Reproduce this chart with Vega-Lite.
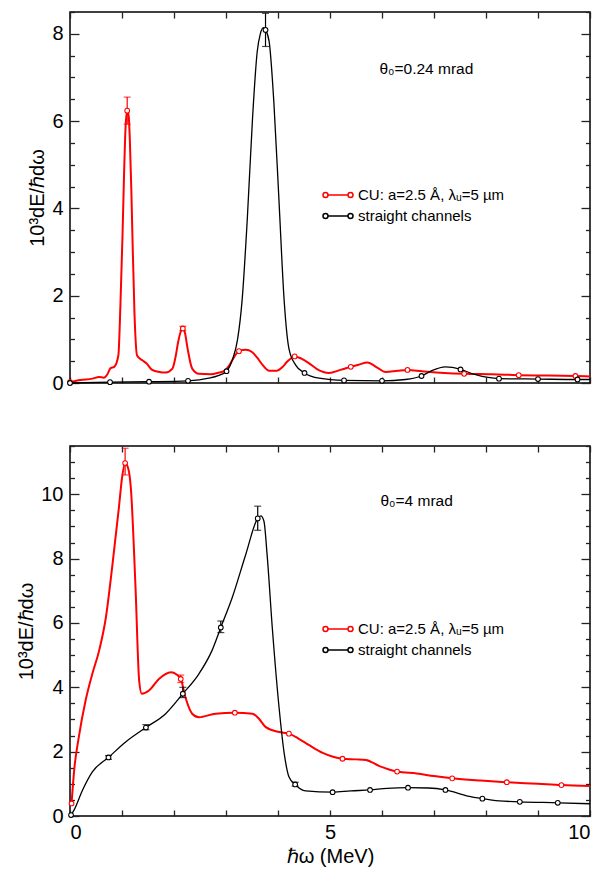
{
  "$schema": "https://vega.github.io/schema/vega-lite/v6.json",
  "padding": {"left": 16, "top": 10, "right": 0, "bottom": 0},
  "background": "white",
  "config": {
    "font": "Liberation Sans",
    "view": {"stroke": "black", "strokeWidth": 1.5},
    "axis": {"domain": false, "grid": false, "labelFont": "Liberation Sans", "titleFont": "Liberation Sans", "labelFontSize": 20, "titleFontSize": 20, "titleFontWeight": "normal", "labelColor": "black", "titleColor": "black", "tickColor": "#222", "tickWidth": 1.3}
  },
  "datasets": {
    "curves": [
      {"p":"a","series":"CU: a=2.5 Å, λᵤ=5 µm","x":0,"y":0.02},{"p":"a","series":"CU: a=2.5 Å, λᵤ=5 µm","x":0.2,"y":0.07},{"p":"a","series":"CU: a=2.5 Å, λᵤ=5 µm","x":0.43,"y":0.1},{"p":"a","series":"CU: a=2.5 Å, λᵤ=5 µm","x":0.56,"y":0.14},{"p":"a","series":"CU: a=2.5 Å, λᵤ=5 µm","x":0.65,"y":0.12},{"p":"a","series":"CU: a=2.5 Å, λᵤ=5 µm","x":0.72,"y":0.2},{"p":"a","series":"CU: a=2.5 Å, λᵤ=5 µm","x":0.78,"y":0.34},{"p":"a","series":"CU: a=2.5 Å, λᵤ=5 µm","x":0.85,"y":0.37},{"p":"a","series":"CU: a=2.5 Å, λᵤ=5 µm","x":0.93,"y":0.63},{"p":"a","series":"CU: a=2.5 Å, λᵤ=5 µm","x":0.97,"y":1.8},{"p":"a","series":"CU: a=2.5 Å, λᵤ=5 µm","x":1.01,"y":3.39},{"p":"a","series":"CU: a=2.5 Å, λᵤ=5 µm","x":1.04,"y":4.8},{"p":"a","series":"CU: a=2.5 Å, λᵤ=5 µm","x":1.07,"y":5.9},{"p":"a","series":"CU: a=2.5 Å, λᵤ=5 µm","x":1.1,"y":6.24},{"p":"a","series":"CU: a=2.5 Å, λᵤ=5 µm","x":1.13,"y":6.1},{"p":"a","series":"CU: a=2.5 Å, λᵤ=5 µm","x":1.15,"y":5.6},{"p":"a","series":"CU: a=2.5 Å, λᵤ=5 µm","x":1.18,"y":4.4},{"p":"a","series":"CU: a=2.5 Å, λᵤ=5 µm","x":1.2,"y":3.39},{"p":"a","series":"CU: a=2.5 Å, λᵤ=5 µm","x":1.24,"y":1.6},{"p":"a","series":"CU: a=2.5 Å, λᵤ=5 µm","x":1.29,"y":0.63},{"p":"a","series":"CU: a=2.5 Å, λᵤ=5 µm","x":1.39,"y":0.52},{"p":"a","series":"CU: a=2.5 Å, λᵤ=5 µm","x":1.47,"y":0.45},{"p":"a","series":"CU: a=2.5 Å, λᵤ=5 µm","x":1.58,"y":0.3},{"p":"a","series":"CU: a=2.5 Å, λᵤ=5 µm","x":1.7,"y":0.26},{"p":"a","series":"CU: a=2.5 Å, λᵤ=5 µm","x":1.84,"y":0.24},{"p":"a","series":"CU: a=2.5 Å, λᵤ=5 µm","x":1.97,"y":0.33},{"p":"a","series":"CU: a=2.5 Å, λᵤ=5 µm","x":2.03,"y":0.6},{"p":"a","series":"CU: a=2.5 Å, λᵤ=5 µm","x":2.08,"y":0.94},{"p":"a","series":"CU: a=2.5 Å, λᵤ=5 µm","x":2.13,"y":1.18},{"p":"a","series":"CU: a=2.5 Å, λᵤ=5 µm","x":2.17,"y":1.25},{"p":"a","series":"CU: a=2.5 Å, λᵤ=5 µm","x":2.21,"y":1.15},{"p":"a","series":"CU: a=2.5 Å, λᵤ=5 µm","x":2.26,"y":0.8},{"p":"a","series":"CU: a=2.5 Å, λᵤ=5 µm","x":2.35,"y":0.33},{"p":"a","series":"CU: a=2.5 Å, λᵤ=5 µm","x":2.48,"y":0.21},{"p":"a","series":"CU: a=2.5 Å, λᵤ=5 µm","x":2.7,"y":0.2},{"p":"a","series":"CU: a=2.5 Å, λᵤ=5 µm","x":2.87,"y":0.24},{"p":"a","series":"CU: a=2.5 Å, λᵤ=5 µm","x":2.96,"y":0.27},{"p":"a","series":"CU: a=2.5 Å, λᵤ=5 µm","x":3.05,"y":0.38},{"p":"a","series":"CU: a=2.5 Å, λᵤ=5 µm","x":3.12,"y":0.52},{"p":"a","series":"CU: a=2.5 Å, λᵤ=5 µm","x":3.25,"y":0.73},{"p":"a","series":"CU: a=2.5 Å, λᵤ=5 µm","x":3.38,"y":0.76},{"p":"a","series":"CU: a=2.5 Å, λᵤ=5 µm","x":3.5,"y":0.71},{"p":"a","series":"CU: a=2.5 Å, λᵤ=5 µm","x":3.6,"y":0.58},{"p":"a","series":"CU: a=2.5 Å, λᵤ=5 µm","x":3.7,"y":0.42},{"p":"a","series":"CU: a=2.5 Å, λᵤ=5 µm","x":3.83,"y":0.28},{"p":"a","series":"CU: a=2.5 Å, λᵤ=5 µm","x":3.98,"y":0.28},{"p":"a","series":"CU: a=2.5 Å, λᵤ=5 µm","x":4.08,"y":0.36},{"p":"a","series":"CU: a=2.5 Å, λᵤ=5 µm","x":4.17,"y":0.48},{"p":"a","series":"CU: a=2.5 Å, λᵤ=5 µm","x":4.32,"y":0.61},{"p":"a","series":"CU: a=2.5 Å, λᵤ=5 µm","x":4.45,"y":0.56},{"p":"a","series":"CU: a=2.5 Å, λᵤ=5 µm","x":4.6,"y":0.45},{"p":"a","series":"CU: a=2.5 Å, λᵤ=5 µm","x":4.75,"y":0.32},{"p":"a","series":"CU: a=2.5 Å, λᵤ=5 µm","x":4.98,"y":0.23},{"p":"a","series":"CU: a=2.5 Å, λᵤ=5 µm","x":5.2,"y":0.3},{"p":"a","series":"CU: a=2.5 Å, λᵤ=5 µm","x":5.4,"y":0.37},{"p":"a","series":"CU: a=2.5 Å, λᵤ=5 µm","x":5.55,"y":0.42},{"p":"a","series":"CU: a=2.5 Å, λᵤ=5 µm","x":5.72,"y":0.47},{"p":"a","series":"CU: a=2.5 Å, λᵤ=5 µm","x":5.9,"y":0.36},{"p":"a","series":"CU: a=2.5 Å, λᵤ=5 µm","x":6.07,"y":0.25},{"p":"a","series":"CU: a=2.5 Å, λᵤ=5 µm","x":6.3,"y":0.28},{"p":"a","series":"CU: a=2.5 Å, λᵤ=5 µm","x":6.49,"y":0.3},{"p":"a","series":"CU: a=2.5 Å, λᵤ=5 µm","x":6.77,"y":0.27},{"p":"a","series":"CU: a=2.5 Å, λᵤ=5 µm","x":7.2,"y":0.23},{"p":"a","series":"CU: a=2.5 Å, λᵤ=5 µm","x":7.58,"y":0.21},{"p":"a","series":"CU: a=2.5 Å, λᵤ=5 µm","x":8.1,"y":0.2},{"p":"a","series":"CU: a=2.5 Å, λᵤ=5 µm","x":8.63,"y":0.18},{"p":"a","series":"CU: a=2.5 Å, λᵤ=5 µm","x":9.2,"y":0.17},{"p":"a","series":"CU: a=2.5 Å, λᵤ=5 µm","x":9.72,"y":0.16},{"p":"a","series":"CU: a=2.5 Å, λᵤ=5 µm","x":10,"y":0.15},
      {"p":"a","series":"straight channels","x":0,"y":0},{"p":"a","series":"straight channels","x":0.77,"y":0.02},{"p":"a","series":"straight channels","x":1.52,"y":0.03},{"p":"a","series":"straight channels","x":2.27,"y":0.05},{"p":"a","series":"straight channels","x":2.67,"y":0.11},{"p":"a","series":"straight channels","x":2.85,"y":0.17},{"p":"a","series":"straight channels","x":3.01,"y":0.27},{"p":"a","series":"straight channels","x":3.12,"y":0.52},{"p":"a","series":"straight channels","x":3.22,"y":0.98},{"p":"a","series":"straight channels","x":3.31,"y":1.9},{"p":"a","series":"straight channels","x":3.41,"y":3.77},{"p":"a","series":"straight channels","x":3.51,"y":6.06},{"p":"a","series":"straight channels","x":3.6,"y":7.59},{"p":"a","series":"straight channels","x":3.66,"y":8.0},{"p":"a","series":"straight channels","x":3.72,"y":8.14},{"p":"a","series":"straight channels","x":3.76,"y":8.09},{"p":"a","series":"straight channels","x":3.83,"y":7.82},{"p":"a","series":"straight channels","x":3.92,"y":6.44},{"p":"a","series":"straight channels","x":4.02,"y":4.15},{"p":"a","series":"straight channels","x":4.12,"y":1.86},{"p":"a","series":"straight channels","x":4.21,"y":0.79},{"p":"a","series":"straight channels","x":4.34,"y":0.41},{"p":"a","series":"straight channels","x":4.51,"y":0.23},{"p":"a","series":"straight channels","x":4.79,"y":0.11},{"p":"a","series":"straight channels","x":5.27,"y":0.06},{"p":"a","series":"straight channels","x":6.0,"y":0.05},{"p":"a","series":"straight channels","x":6.45,"y":0.08},{"p":"a","series":"straight channels","x":6.76,"y":0.16},{"p":"a","series":"straight channels","x":6.97,"y":0.29},{"p":"a","series":"straight channels","x":7.22,"y":0.37},{"p":"a","series":"straight channels","x":7.35,"y":0.36},{"p":"a","series":"straight channels","x":7.51,"y":0.31},{"p":"a","series":"straight channels","x":7.8,"y":0.19},{"p":"a","series":"straight channels","x":8.25,"y":0.1},{"p":"a","series":"straight channels","x":9.0,"y":0.09},{"p":"a","series":"straight channels","x":9.76,"y":0.08},{"p":"a","series":"straight channels","x":10,"y":0.08},
      {"p":"b","series":"CU: a=2.5 Å, λᵤ=5 µm","x":0.03,"y":0.39},{"p":"b","series":"CU: a=2.5 Å, λᵤ=5 µm","x":0.08,"y":1.42},{"p":"b","series":"CU: a=2.5 Å, λᵤ=5 µm","x":0.17,"y":2.46},{"p":"b","series":"CU: a=2.5 Å, λᵤ=5 µm","x":0.3,"y":3.59},{"p":"b","series":"CU: a=2.5 Å, λᵤ=5 µm","x":0.43,"y":4.42},{"p":"b","series":"CU: a=2.5 Å, λᵤ=5 µm","x":0.56,"y":5.14},{"p":"b","series":"CU: a=2.5 Å, λᵤ=5 µm","x":0.69,"y":6.17},{"p":"b","series":"CU: a=2.5 Å, λᵤ=5 µm","x":0.81,"y":7.72},{"p":"b","series":"CU: a=2.5 Å, λᵤ=5 µm","x":0.94,"y":9.58},{"p":"b","series":"CU: a=2.5 Å, λᵤ=5 µm","x":1.0,"y":10.5},{"p":"b","series":"CU: a=2.5 Å, λᵤ=5 µm","x":1.06,"y":10.97},{"p":"b","series":"CU: a=2.5 Å, λᵤ=5 µm","x":1.12,"y":10.8},{"p":"b","series":"CU: a=2.5 Å, λᵤ=5 µm","x":1.17,"y":10.2},{"p":"b","series":"CU: a=2.5 Å, λᵤ=5 µm","x":1.26,"y":7.1},{"p":"b","series":"CU: a=2.5 Å, λᵤ=5 µm","x":1.33,"y":4.21},{"p":"b","series":"CU: a=2.5 Å, λᵤ=5 µm","x":1.38,"y":3.8},{"p":"b","series":"CU: a=2.5 Å, λᵤ=5 µm","x":1.52,"y":3.9},{"p":"b","series":"CU: a=2.5 Å, λᵤ=5 µm","x":1.71,"y":4.26},{"p":"b","series":"CU: a=2.5 Å, λᵤ=5 µm","x":1.94,"y":4.47},{"p":"b","series":"CU: a=2.5 Å, λᵤ=5 µm","x":2.05,"y":4.4},{"p":"b","series":"CU: a=2.5 Å, λᵤ=5 µm","x":2.13,"y":4.26},{"p":"b","series":"CU: a=2.5 Å, λᵤ=5 µm","x":2.22,"y":3.69},{"p":"b","series":"CU: a=2.5 Å, λᵤ=5 µm","x":2.35,"y":3.18},{"p":"b","series":"CU: a=2.5 Å, λᵤ=5 µm","x":2.48,"y":3.07},{"p":"b","series":"CU: a=2.5 Å, λᵤ=5 µm","x":2.8,"y":3.18},{"p":"b","series":"CU: a=2.5 Å, λᵤ=5 µm","x":3.17,"y":3.21},{"p":"b","series":"CU: a=2.5 Å, λᵤ=5 µm","x":3.51,"y":3.18},{"p":"b","series":"CU: a=2.5 Å, λᵤ=5 µm","x":3.63,"y":3.03},{"p":"b","series":"CU: a=2.5 Å, λᵤ=5 µm","x":3.76,"y":2.77},{"p":"b","series":"CU: a=2.5 Å, λᵤ=5 µm","x":4.02,"y":2.61},{"p":"b","series":"CU: a=2.5 Å, λᵤ=5 µm","x":4.21,"y":2.56},{"p":"b","series":"CU: a=2.5 Å, λᵤ=5 µm","x":4.4,"y":2.4},{"p":"b","series":"CU: a=2.5 Å, λᵤ=5 µm","x":4.6,"y":2.2},{"p":"b","series":"CU: a=2.5 Å, λᵤ=5 µm","x":4.86,"y":1.96},{"p":"b","series":"CU: a=2.5 Å, λᵤ=5 µm","x":5.24,"y":1.78},{"p":"b","series":"CU: a=2.5 Å, λᵤ=5 µm","x":5.5,"y":1.76},{"p":"b","series":"CU: a=2.5 Å, λᵤ=5 µm","x":5.69,"y":1.74},{"p":"b","series":"CU: a=2.5 Å, λᵤ=5 µm","x":5.95,"y":1.55},{"p":"b","series":"CU: a=2.5 Å, λᵤ=5 µm","x":6.29,"y":1.38},{"p":"b","series":"CU: a=2.5 Å, λᵤ=5 µm","x":6.67,"y":1.32},{"p":"b","series":"CU: a=2.5 Å, λᵤ=5 µm","x":7.0,"y":1.24},{"p":"b","series":"CU: a=2.5 Å, λᵤ=5 µm","x":7.35,"y":1.17},{"p":"b","series":"CU: a=2.5 Å, λᵤ=5 µm","x":7.9,"y":1.1},{"p":"b","series":"CU: a=2.5 Å, λᵤ=5 µm","x":8.4,"y":1.05},{"p":"b","series":"CU: a=2.5 Å, λᵤ=5 µm","x":9.0,"y":1.0},{"p":"b","series":"CU: a=2.5 Å, λᵤ=5 µm","x":9.45,"y":0.96},{"p":"b","series":"CU: a=2.5 Å, λᵤ=5 µm","x":10,"y":0.93},
      {"p":"b","series":"straight channels","x":0.02,"y":0.03},{"p":"b","series":"straight channels","x":0.08,"y":0.19},{"p":"b","series":"straight channels","x":0.24,"y":0.8},{"p":"b","series":"straight channels","x":0.43,"y":1.37},{"p":"b","series":"straight channels","x":0.74,"y":1.82},{"p":"b","series":"straight channels","x":1.07,"y":2.3},{"p":"b","series":"straight channels","x":1.46,"y":2.75},{"p":"b","series":"straight channels","x":1.84,"y":3.18},{"p":"b","series":"straight channels","x":2.17,"y":3.8},{"p":"b","series":"straight channels","x":2.48,"y":4.42},{"p":"b","series":"straight channels","x":2.73,"y":5.14},{"p":"b","series":"straight channels","x":2.9,"y":5.86},{"p":"b","series":"straight channels","x":3.12,"y":6.79},{"p":"b","series":"straight channels","x":3.38,"y":8.13},{"p":"b","series":"straight channels","x":3.61,"y":9.25},{"p":"b","series":"straight channels","x":3.67,"y":9.33},{"p":"b","series":"straight channels","x":3.73,"y":9.16},{"p":"b","series":"straight channels","x":3.79,"y":8.13},{"p":"b","series":"straight channels","x":3.89,"y":5.86},{"p":"b","series":"straight channels","x":4.02,"y":3.38},{"p":"b","series":"straight channels","x":4.12,"y":1.94},{"p":"b","series":"straight channels","x":4.21,"y":1.22},{"p":"b","series":"straight channels","x":4.33,"y":0.98},{"p":"b","series":"straight channels","x":4.53,"y":0.78},{"p":"b","series":"straight channels","x":5.05,"y":0.74},{"p":"b","series":"straight channels","x":5.4,"y":0.78},{"p":"b","series":"straight channels","x":5.77,"y":0.81},{"p":"b","series":"straight channels","x":6.1,"y":0.86},{"p":"b","series":"straight channels","x":6.5,"y":0.88},{"p":"b","series":"straight channels","x":6.89,"y":0.87},{"p":"b","series":"straight channels","x":7.22,"y":0.81},{"p":"b","series":"straight channels","x":7.65,"y":0.62},{"p":"b","series":"straight channels","x":7.93,"y":0.54},{"p":"b","series":"straight channels","x":8.25,"y":0.47},{"p":"b","series":"straight channels","x":8.65,"y":0.44},{"p":"b","series":"straight channels","x":9.38,"y":0.41},{"p":"b","series":"straight channels","x":10,"y":0.38}
    ],
    "markers": [
      {"p":"a","series":"CU: a=2.5 Å, λᵤ=5 µm","x":0,"y":0.02},{"p":"a","series":"CU: a=2.5 Å, λᵤ=5 µm","x":1.1,"y":6.24},{"p":"a","series":"CU: a=2.5 Å, λᵤ=5 µm","x":2.17,"y":1.25},{"p":"a","series":"CU: a=2.5 Å, λᵤ=5 µm","x":3.25,"y":0.73},{"p":"a","series":"CU: a=2.5 Å, λᵤ=5 µm","x":4.32,"y":0.61},{"p":"a","series":"CU: a=2.5 Å, λᵤ=5 µm","x":5.4,"y":0.37},{"p":"a","series":"CU: a=2.5 Å, λᵤ=5 µm","x":6.49,"y":0.3},{"p":"a","series":"CU: a=2.5 Å, λᵤ=5 µm","x":7.58,"y":0.21},{"p":"a","series":"CU: a=2.5 Å, λᵤ=5 µm","x":8.63,"y":0.18},{"p":"a","series":"CU: a=2.5 Å, λᵤ=5 µm","x":9.72,"y":0.16},
      {"p":"a","series":"straight channels","x":0,"y":0},{"p":"a","series":"straight channels","x":0.77,"y":0.02},{"p":"a","series":"straight channels","x":1.52,"y":0.03},{"p":"a","series":"straight channels","x":2.27,"y":0.05},{"p":"a","series":"straight channels","x":3.01,"y":0.27},{"p":"a","series":"straight channels","x":3.76,"y":8.09},{"p":"a","series":"straight channels","x":4.51,"y":0.23},{"p":"a","series":"straight channels","x":5.27,"y":0.06},{"p":"a","series":"straight channels","x":6.0,"y":0.05},{"p":"a","series":"straight channels","x":6.76,"y":0.16},{"p":"a","series":"straight channels","x":7.51,"y":0.31},{"p":"a","series":"straight channels","x":8.25,"y":0.1},{"p":"a","series":"straight channels","x":9.0,"y":0.09},{"p":"a","series":"straight channels","x":9.76,"y":0.08},
      {"p":"b","series":"CU: a=2.5 Å, λᵤ=5 µm","x":0.03,"y":0.39},{"p":"b","series":"CU: a=2.5 Å, λᵤ=5 µm","x":1.06,"y":10.97},{"p":"b","series":"CU: a=2.5 Å, λᵤ=5 µm","x":2.13,"y":4.26},{"p":"b","series":"CU: a=2.5 Å, λᵤ=5 µm","x":3.17,"y":3.21},{"p":"b","series":"CU: a=2.5 Å, λᵤ=5 µm","x":4.21,"y":2.56},{"p":"b","series":"CU: a=2.5 Å, λᵤ=5 µm","x":5.24,"y":1.78},{"p":"b","series":"CU: a=2.5 Å, λᵤ=5 µm","x":6.29,"y":1.38},{"p":"b","series":"CU: a=2.5 Å, λᵤ=5 µm","x":7.35,"y":1.17},{"p":"b","series":"CU: a=2.5 Å, λᵤ=5 µm","x":8.4,"y":1.05},{"p":"b","series":"CU: a=2.5 Å, λᵤ=5 µm","x":9.45,"y":0.96},
      {"p":"b","series":"straight channels","x":0.02,"y":0.03},{"p":"b","series":"straight channels","x":0.74,"y":1.82},{"p":"b","series":"straight channels","x":1.46,"y":2.75},{"p":"b","series":"straight channels","x":2.17,"y":3.8},{"p":"b","series":"straight channels","x":2.9,"y":5.86},{"p":"b","series":"straight channels","x":3.61,"y":9.25},{"p":"b","series":"straight channels","x":4.33,"y":0.98},{"p":"b","series":"straight channels","x":5.05,"y":0.74},{"p":"b","series":"straight channels","x":5.77,"y":0.81},{"p":"b","series":"straight channels","x":6.5,"y":0.88},{"p":"b","series":"straight channels","x":7.22,"y":0.81},{"p":"b","series":"straight channels","x":7.93,"y":0.54},{"p":"b","series":"straight channels","x":8.65,"y":0.44},{"p":"b","series":"straight channels","x":9.38,"y":0.41}
    ],
    "errs": [
      {"p":"a","series":"CU","x":1.1,"lo":5.93,"hi":6.55},{"p":"a","series":"CU","x":2.17,"lo":1.2,"hi":1.3},{"p":"a","series":"straight","x":3.76,"lo":7.71,"hi":8.47},
      {"p":"b","series":"CU","x":1.06,"lo":10.6,"hi":11.43},{"p":"b","series":"CU","x":2.13,"lo":4.15,"hi":4.38},
      {"p":"b","series":"straight","x":0.74,"lo":1.76,"hi":1.88},{"p":"b","series":"straight","x":1.46,"lo":2.68,"hi":2.84},{"p":"b","series":"straight","x":2.17,"lo":3.68,"hi":4.0},{"p":"b","series":"straight","x":2.9,"lo":5.7,"hi":6.06},{"p":"b","series":"straight","x":3.61,"lo":8.88,"hi":9.63},{"p":"b","series":"straight","x":4.33,"lo":0.93,"hi":1.05}
    ],
    "notes": [
      {"p":"a","x":5.95,"y":7.2,"t":"θ₀=0.24 mrad"},
      {"p":"b","x":5.97,"y":9.78,"t":"θ₀=4 mrad"}
    ]
  },
  "spacing": 50,
  "resolve": {"scale": {"y": "independent", "color": "independent", "stroke": "independent"}, "legend": {"color": "independent"}},
  "vconcat": [
    {
      "width": 520, "height": 371,
      "resolve": {"axis": {"x": "independent", "y": "independent"}},
      "layer": [
        {
          "data": {"name": "curves"},
          "transform": [{"filter": "datum.p === 'a' && datum.series !== 'straight channels'"}],
          "mark": {"type": "line", "interpolate": "monotone", "strokeWidth": 2},
          "encoding": {
            "x": {"field": "x", "type": "quantitative", "scale": {"domain": [0, 10], "nice": false}, "axis": {"orient": "bottom", "values": [0,1,2,3,4,5,6,7,8,9,10], "labels": false, "title": null, "tickSize": -6}},
            "y": {"field": "y", "type": "quantitative", "scale": {"domain": [0, 8.5], "nice": false, "zero": false}, "axis": {"orient": "left", "values": [0,0.5,1,1.5,2,2.5,3,3.5,4,4.5,5,5.5,6,6.5,7,7.5,8,8.5], "labelExpr": "datum.value % 2 === 0 ? format(datum.value, 'd') : ''", "tickSize": {"condition": {"test": "datum.value % 2 === 0", "value": -9}, "value": -4.5}, "labelPadding": 16, "title": "10³dE/ℏdω", "titlePadding": 4}},
            "color": {"field": "series", "type": "nominal", "scale": {"domain": ["CU: a=2.5 Å, λᵤ=5 µm", "straight channels"], "range": ["#ff0000", "#000000"]},
              "legend": {"orient": "none", "legendX": 255, "legendY": 170, "title": null, "symbolType": "M-0.833,0L0.833,0M-1.25,0a0.208,0.208 0 1,0 0.417,0a0.208,0.208 0 1,0 -0.417,0M0.833,0a0.208,0.208 0 1,0 0.417,0a0.208,0.208 0 1,0 -0.417,0", "symbolSize": 576, "symbolStrokeWidth": 1.5, "symbolFillColor": "white", "labelFontSize": 15, "labelFont": "Liberation Sans", "labelColor": "black", "labelOffset": 7, "rowPadding": 0, "padding": 0, "labelLimit": 400}}
          }
        },
        {
          "data": {"name": "curves"},
          "transform": [{"filter": "datum.p === 'a' && datum.series === 'straight channels'"}],
          "mark": {"type": "line", "interpolate": "monotone", "strokeWidth": 1.3},
          "encoding": {
            "x": {"field": "x", "type": "quantitative", "scale": {"domain": [0, 10], "nice": false}, "axis": {"orient": "top", "values": [0,1,2,3,4,5,6,7,8,9,10], "labels": false, "title": null, "tickSize": -6}},
            "y": {"field": "y", "type": "quantitative", "scale": {"domain": [0, 8.5], "nice": false, "zero": false}, "axis": {"orient": "right", "values": [0,0.5,1,1.5,2,2.5,3,3.5,4,4.5,5,5.5,6,6.5,7,7.5,8,8.5], "labels": false, "tickSize": {"condition": {"test": "datum.value % 2 === 0", "value": -9}, "value": -4.5}, "title": null}},
            "color": {"field": "series", "type": "nominal"}
          }
        },
        {
          "data": {"name": "errs"},
          "transform": [{"filter": "datum.p === 'a' && datum.series === 'CU'"}],
          "mark": {"type": "errorbar", "color": "#ff0000", "thickness": 1.2, "ticks": {"size": 7, "thickness": 1.2}},
          "encoding": {
            "x": {"field": "x", "type": "quantitative", "axis": null},
            "y": {"field": "lo", "type": "quantitative", "axis": null},
            "y2": {"field": "hi"}
          }
        },
        {
          "data": {"name": "errs"},
          "transform": [{"filter": "datum.p === 'a' && datum.series === 'straight'"}],
          "mark": {"type": "errorbar", "color": "#000000", "thickness": 1.2, "ticks": {"size": 7, "thickness": 1.2}},
          "encoding": {
            "x": {"field": "x", "type": "quantitative", "axis": null},
            "y": {"field": "lo", "type": "quantitative", "axis": null},
            "y2": {"field": "hi"}
          }
        },
        {
          "data": {"name": "markers"},
          "transform": [{"filter": "datum.p === 'a'"}],
          "mark": {"type": "point", "shape": "circle", "filled": false, "fill": "white", "size": 22, "strokeWidth": 1.1, "opacity": 1},
          "encoding": {
            "x": {"field": "x", "type": "quantitative", "axis": null},
            "y": {"field": "y", "type": "quantitative", "axis": null},
            "stroke": {"field": "series", "type": "nominal", "scale": {"domain": ["CU: a=2.5 Å, λᵤ=5 µm", "straight channels"], "range": ["#ff0000", "#000000"]}, "legend": null}
          }
        },
        {
          "data": {"name": "notes"},
          "transform": [{"filter": "datum.p === 'a'"}],
          "mark": {"type": "text", "align": "left", "baseline": "middle", "fontSize": 15.5, "font": "Liberation Sans", "color": "black"},
          "encoding": {
            "x": {"field": "x", "type": "quantitative", "axis": null},
            "y": {"field": "y", "type": "quantitative", "axis": null},
            "text": {"field": "t"}
          }
        }
      ]
    },
    {
      "width": 520, "height": 370,
      "resolve": {"axis": {"x": "independent", "y": "independent"}},
      "layer": [
        {
          "data": {"name": "curves"},
          "transform": [{"filter": "datum.p === 'b' && datum.series !== 'straight channels'"}],
          "mark": {"type": "line", "interpolate": "monotone", "strokeWidth": 2},
          "encoding": {
            "x": {"field": "x", "type": "quantitative", "scale": {"domain": [0, 10], "nice": false}, "axis": {"orient": "bottom", "values": [0,1,2,3,4,5,6,7,8,9,10], "labelExpr": "datum.value % 5 === 0 ? format(datum.value, 'd') : ''", "tickSize": -6, "labelPadding": 12, "title": "ℏω (MeV)", "titlePadding": 4}},
            "y": {"field": "y", "type": "quantitative", "scale": {"domain": [0, 11.5], "nice": false, "zero": false}, "axis": {"orient": "left", "values": [0,0.5,1,1.5,2,2.5,3,3.5,4,4.5,5,5.5,6,6.5,7,7.5,8,8.5,9,9.5,10,10.5,11,11.5], "labelExpr": "datum.value % 2 === 0 ? format(datum.value, 'd') : ''", "tickSize": {"condition": {"test": "datum.value % 2 === 0", "value": -9}, "value": -4.5}, "labelPadding": 16, "title": "10³dE/ℏdω", "titlePadding": 4}},
            "color": {"field": "series", "type": "nominal", "scale": {"domain": ["CU: a=2.5 Å, λᵤ=5 µm", "straight channels"], "range": ["#ff0000", "#000000"]},
              "legend": {"orient": "none", "legendX": 255, "legendY": 170, "title": null, "symbolType": "M-0.833,0L0.833,0M-1.25,0a0.208,0.208 0 1,0 0.417,0a0.208,0.208 0 1,0 -0.417,0M0.833,0a0.208,0.208 0 1,0 0.417,0a0.208,0.208 0 1,0 -0.417,0", "symbolSize": 576, "symbolStrokeWidth": 1.5, "symbolFillColor": "white", "labelFontSize": 15, "labelFont": "Liberation Sans", "labelColor": "black", "labelOffset": 7, "rowPadding": 0, "padding": 0, "labelLimit": 400}}
          }
        },
        {
          "data": {"name": "curves"},
          "transform": [{"filter": "datum.p === 'b' && datum.series === 'straight channels'"}],
          "mark": {"type": "line", "interpolate": "monotone", "strokeWidth": 1.3},
          "encoding": {
            "x": {"field": "x", "type": "quantitative", "scale": {"domain": [0, 10], "nice": false}, "axis": {"orient": "top", "values": [0,1,2,3,4,5,6,7,8,9,10], "labels": false, "title": null, "tickSize": -6}},
            "y": {"field": "y", "type": "quantitative", "scale": {"domain": [0, 11.5], "nice": false, "zero": false}, "axis": {"orient": "right", "values": [0,0.5,1,1.5,2,2.5,3,3.5,4,4.5,5,5.5,6,6.5,7,7.5,8,8.5,9,9.5,10,10.5,11,11.5], "labels": false, "tickSize": {"condition": {"test": "datum.value % 2 === 0", "value": -9}, "value": -4.5}, "title": null}},
            "color": {"field": "series", "type": "nominal"}
          }
        },
        {
          "data": {"name": "errs"},
          "transform": [{"filter": "datum.p === 'b' && datum.series === 'CU'"}],
          "mark": {"type": "errorbar", "color": "#ff0000", "thickness": 1.2, "ticks": {"size": 7, "thickness": 1.2}},
          "encoding": {
            "x": {"field": "x", "type": "quantitative", "axis": null},
            "y": {"field": "lo", "type": "quantitative", "axis": null},
            "y2": {"field": "hi"}
          }
        },
        {
          "data": {"name": "errs"},
          "transform": [{"filter": "datum.p === 'b' && datum.series === 'straight'"}],
          "mark": {"type": "errorbar", "color": "#000000", "thickness": 1.2, "ticks": {"size": 7, "thickness": 1.2}},
          "encoding": {
            "x": {"field": "x", "type": "quantitative", "axis": null},
            "y": {"field": "lo", "type": "quantitative", "axis": null},
            "y2": {"field": "hi"}
          }
        },
        {
          "data": {"name": "markers"},
          "transform": [{"filter": "datum.p === 'b'"}],
          "mark": {"type": "point", "shape": "circle", "filled": false, "fill": "white", "size": 22, "strokeWidth": 1.1, "opacity": 1},
          "encoding": {
            "x": {"field": "x", "type": "quantitative", "axis": null},
            "y": {"field": "y", "type": "quantitative", "axis": null},
            "stroke": {"field": "series", "type": "nominal", "scale": {"domain": ["CU: a=2.5 Å, λᵤ=5 µm", "straight channels"], "range": ["#ff0000", "#000000"]}, "legend": null}
          }
        },
        {
          "data": {"name": "notes"},
          "transform": [{"filter": "datum.p === 'b'"}],
          "mark": {"type": "text", "align": "left", "baseline": "middle", "fontSize": 15.5, "font": "Liberation Sans", "color": "black"},
          "encoding": {
            "x": {"field": "x", "type": "quantitative", "axis": null},
            "y": {"field": "y", "type": "quantitative", "axis": null},
            "text": {"field": "t"}
          }
        }
      ]
    }
  ]
}
